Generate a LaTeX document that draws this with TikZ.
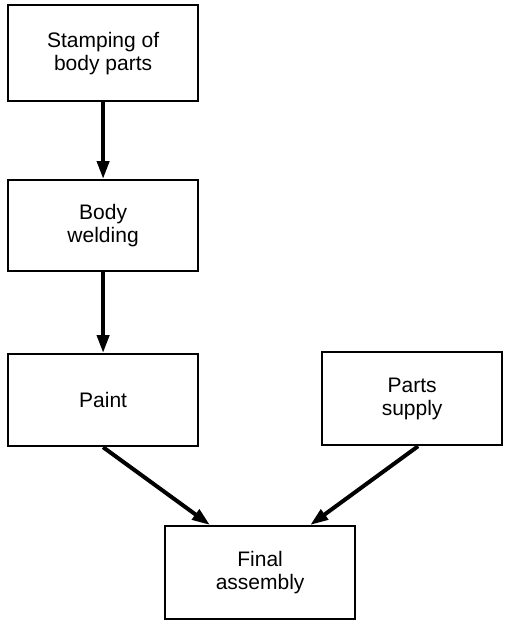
\documentclass[tikz,border=0pt]{standalone}
\usepackage{fontspec}
\setmainfont{Liberation Sans}
\usetikzlibrary{arrows.meta}
\begin{document}
\begin{tikzpicture}[x=1pt,y=-1pt,
  stage/.style={draw, line width=2.2pt, align=center, inner sep=0pt,
    anchor=north west, font=\fontsize{21}{23}\selectfont},
  flow/.style={line width=4pt, -{Triangle[length=18pt,width=12pt]}}]
\useasboundingbox (0,0) rectangle (504,621);
% process stages
\node[stage, minimum width=190pt, minimum height=96pt] (stamp) at (7,4) {Stamping of\\body parts};
\node[stage, minimum width=190pt, minimum height=91pt] (weld) at (7,179) {Body\\welding};
\node[stage, minimum width=190pt, minimum height=92pt] (paint) at (7,353) {Paint};
\node[stage, minimum width=180pt, minimum height=93pt] (parts) at (321,351) {Parts\\supply};
\node[stage, minimum width=190pt, minimum height=93pt] (final) at (164,525) {Final\\assembly};
% material flow
\draw[flow] (stamp.south) -- (weld.north);
\draw[flow] (weld.south) -- (paint.north);
\draw[flow] (paint.south) -- ([xshift=46pt]final.north west);
\draw[flow] ([xshift=6pt]parts.south) -- ([xshift=-46pt]final.north east);
\end{tikzpicture}
\end{document}
